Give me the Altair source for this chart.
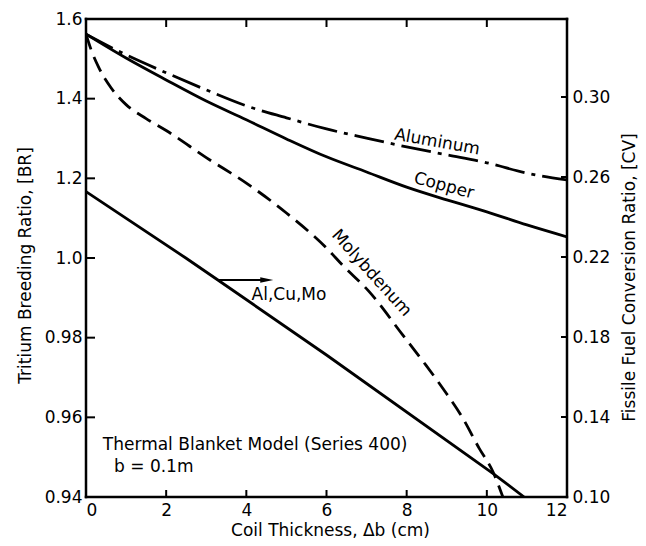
import altair as alt
import pandas as pd

# ---------------- data ----------------
X_TICKS = [0, 2, 4, 6, 8, 10, 12]
BR_TICKS = [0.94, 0.96, 0.98, 1.00, 1.02, 1.04, 1.06]
BR_TICK_LABELS = ["0.94", "0.96", "0.98", "1.0", "1.2", "1.4", "1.6"]
CV_TICKS = [0.10, 0.14, 0.18, 0.22, 0.26, 0.30]

AL_X = [0, 1, 2, 3, 4, 5, 6, 7, 8, 9, 10, 11, 12]
AL_BR = [1.0562, 1.0510, 1.0465, 1.0422, 1.0382, 1.0352, 1.0324, 1.0301,
         1.0279, 1.0259, 1.0239, 1.0213, 1.0196]

CU_X = [0, 1, 2, 3, 4, 5, 6, 7, 8, 9, 10, 11, 12]
CU_BR = [1.0562, 1.0502, 1.0447, 1.0394, 1.0347, 1.0299, 1.0254, 1.0216,
         1.0178, 1.0146, 1.0116, 1.0083, 1.0053]

MO_X = [0, 0.12, 0.32, 0.62, 1.0, 1.5, 2, 3, 4, 5, 6, 6.4, 7.07, 7.9, 8.48,
        8.9, 9.4, 9.81, 10.15, 10.4]
MO_BR = [1.0562, 1.0525, 1.0478, 1.0428, 1.0385, 1.0350, 1.0320, 1.0252,
         1.0188, 1.0113, 1.0025, 0.9982, 0.9915, 0.9807, 0.9731, 0.9673,
         0.9598, 0.9522, 0.9464, 0.9400]

CV_X = [0, 2.49, 3.29, 6.0, 10.15, 10.93]
CV_VAL = [0.2527, 0.2195, 0.2085, 0.171, 0.1118, 0.100]

# annotations (data coordinates)
NAME_TEXT = ["Aluminum", "Copper", "Molybdenum"]
NAME_X = [8.76, 8.93, 7.12]
NAME_BR = [1.0291, 1.0181, 0.9962]
NAME_ANGLE = [10, 15, 48]

NOTE_TEXT = ["Thermal Blanket Model (Series 400)", "b = 0.1m"]
NOTE_X = [0.42, 0.70]
NOTE_BR = [0.9531, 0.9475]

ARROW_X = [3.28, 4.51]
ARROW_CV = [0.2085]
ARROW_TEXT = ["Al,Cu,Mo"]
ARROW_TEXT_X = [4.13]
ARROW_TEXT_CV = [0.2012]

W, H = 481, 478
FONT = "DejaVu Sans"
FS = 17
INK = "black"
LW = 2.8

# ---------------- scales & axes ----------------
x_scale = alt.Scale(domain=[0, 12], nice=False, zero=False)
br_scale = alt.Scale(domain=[0.94, 1.06], nice=False, zero=False)
cv_scale = alt.Scale(domain=[0.10, 0.339], nice=False, zero=False)

br_label_expr = ("[" + ",".join(f"'{s}'" for s in BR_TICK_LABELS) + "][indexof(["
                 + ",".join(str(round(v * 100)) for v in BR_TICKS)
                 + "], round(datum.value*100))]")

x_axis = alt.Axis(values=X_TICKS, ticks=False, tickSize=0, domain=False, grid=False,
                  labelPadding=5, labelFontSize=FS, labelColor=INK, labelFont=FONT,
                  title="Coil Thickness, Δb (cm)", titleFontSize=FS,
                  titleFontWeight="normal", titleFont=FONT, titleColor=INK,
                  titleX=244, titleY=33, titleAlign="center", titleBaseline="middle")

br_axis = alt.Axis(values=BR_TICKS, labelExpr=br_label_expr, orient="left",
                   ticks=False, tickSize=0, domain=False, grid=False,
                   labelPadding=4, labelFontSize=FS, labelColor=INK, labelFont=FONT,
                   title="Tritium Breeding Ratio, [BR]", titleFontSize=FS,
                   titleFontWeight="normal", titleFont=FONT, titleColor=INK,
                   titleAngle=270, titleX=-61, titleY=246, titleAlign="center",
                   titleBaseline="middle")

cv_axis = alt.Axis(values=CV_TICKS, format=".2f", orient="right",
                   ticks=False, tickSize=0, domain=False, grid=False,
                   labelPadding=5, labelFontSize=FS, labelColor=INK, labelFont=FONT,
                   title="Fissile Fuel Conversion Ratio, [CV]", titleFontSize=FS,
                   titleFontWeight="normal", titleFont=FONT, titleColor=INK,
                   titleAngle=270, titleX=62, titleY=258, titleAlign="center",
                   titleBaseline="middle")


def xenc(field="x"):
    return alt.X(f"{field}:Q", scale=x_scale, axis=x_axis)


def brenc(field="BR"):
    return alt.Y(f"{field}:Q", scale=br_scale, axis=br_axis)


def cvenc(field="CV"):
    return alt.Y(f"{field}:Q", scale=cv_scale, axis=cv_axis)


def line(xs, ys, dash):
    df = pd.DataFrame({"x": xs, "BR": ys})
    kw = dict(color=INK, strokeWidth=LW, interpolate="monotone", clip=True)
    if dash:
        kw["strokeDash"] = dash
    return alt.Chart(df).mark_line(**kw).encode(x=xenc(), y=brenc())


al_line = line(AL_X, AL_BR, [30, 7, 4, 7])
cu_line = line(CU_X, CU_BR, None)
mo_line = line(MO_X, MO_BR, [16, 8])

# inward tick marks
br_tick_df = pd.DataFrame({"BR": BR_TICKS})
left_ticks = alt.Chart(br_tick_df).mark_rule(color=INK, strokeWidth=2).encode(
    y=brenc(), x=alt.value(0), x2=alt.value(9))

x_tick_df = pd.DataFrame({"x": X_TICKS})
bottom_ticks = alt.Chart(x_tick_df).mark_rule(color=INK, strokeWidth=2).encode(
    x=xenc(), y=alt.value(H), y2=alt.value(H - 7))
top_ticks = alt.Chart(x_tick_df).mark_rule(color=INK, strokeWidth=2).encode(
    x=xenc(), y=alt.value(0), y2=alt.value(8))

# frame
frame_style = dict(color=INK, strokeWidth=2.5, strokeCap="square")
frame_left = alt.Chart().mark_rule(**frame_style).encode(
    x=alt.value(0), y=alt.value(0), y2=alt.value(H))
frame_right = alt.Chart().mark_rule(**frame_style).encode(
    x=alt.value(W), y=alt.value(0), y2=alt.value(H))
frame_top = alt.Chart().mark_rule(**frame_style).encode(
    y=alt.value(0), x=alt.value(0), x2=alt.value(W))
frame_bottom = alt.Chart().mark_rule(**frame_style).encode(
    y=alt.value(H), x=alt.value(0), x2=alt.value(W))

# curve name labels
name_layers = []
for t, xx, yy, ang in zip(NAME_TEXT, NAME_X, NAME_BR, NAME_ANGLE):
    df = pd.DataFrame({"x": [xx], "BR": [yy], "t": [t]})
    name_layers.append(
        alt.Chart(df).mark_text(font=FONT, fontSize=FS, color=INK, angle=ang,
                                align="center", baseline="middle")
        .encode(x=xenc(), y=brenc(), text="t:N"))

note_df = pd.DataFrame({"x": NOTE_X, "BR": NOTE_BR, "t": NOTE_TEXT})
notes = alt.Chart(note_df).mark_text(font=FONT, fontSize=FS, color=INK,
                                     align="left", baseline="middle").encode(
    x=xenc(), y=brenc(), text="t:N")

br_group = alt.layer(al_line, cu_line, mo_line, left_ticks, bottom_ticks,
                     top_ticks, notes, *name_layers)

# CV (right axis) group
cv_df = pd.DataFrame({"x": CV_X, "CV": CV_VAL})
cv_line = alt.Chart(cv_df).mark_line(color=INK, strokeWidth=LW, clip=True).encode(
    x=xenc(), y=cvenc())

cv_tick_df = pd.DataFrame({"CV": CV_TICKS})
right_ticks = alt.Chart(cv_tick_df).mark_rule(color=INK, strokeWidth=2).encode(
    y=cvenc(), x=alt.value(W - 6), x2=alt.value(W))

arrow_df = pd.DataFrame({"x": [ARROW_X[0]], "x2": [ARROW_X[1]], "CV": ARROW_CV})
arrow_shaft = alt.Chart(arrow_df).mark_rule(color=INK, strokeWidth=2).encode(
    x=xenc(), x2="x2:Q", y=cvenc())
head_df = pd.DataFrame({"x": [ARROW_X[1]], "CV": ARROW_CV})
arrow_head = alt.Chart(head_df).mark_point(
    shape="M -1 -0.42 L 1 0 L -1 0.42 Z", size=169, filled=True, color=INK,
    opacity=1, strokeWidth=0).encode(x=xenc(), y=cvenc())

arrow_txt_df = pd.DataFrame({"x": ARROW_TEXT_X, "CV": ARROW_TEXT_CV, "t": ARROW_TEXT})
arrow_text = alt.Chart(arrow_txt_df).mark_text(font=FONT, fontSize=FS, color=INK,
                                               align="left", baseline="middle").encode(
    x=xenc(), y=cvenc(), text="t:N")

cv_group = alt.layer(cv_line, right_ticks, arrow_shaft, arrow_head, arrow_text)

chart = (
    alt.layer(br_group, cv_group, frame_left, frame_right, frame_top, frame_bottom)
    .resolve_scale(y="independent")
    .properties(width=W, height=H, autosize="none",
                padding={"left": 78, "top": 11, "right": 71, "bottom": 41},
                background="white")
    .configure_view(strokeWidth=0)
    .configure(font=FONT)
)

chart.save("out.html", embed_options={"renderer": "svg", "actions": False})
